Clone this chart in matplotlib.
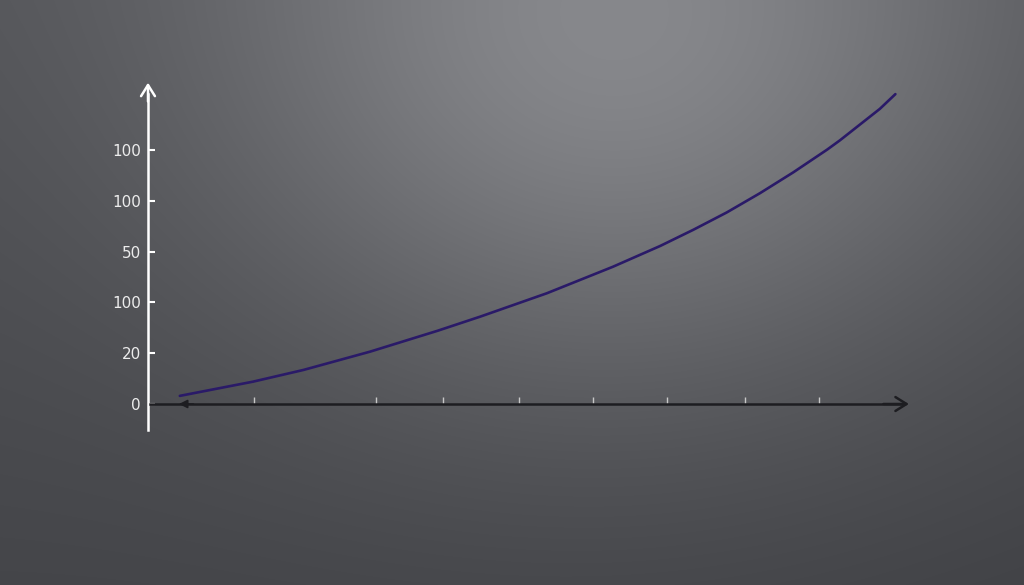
import numpy as np
import matplotlib.pyplot as plt

# data (x in axis units, y in tick steps)
x_vals = [0.43, 1.42, 2.10, 3.00, 3.91, 4.49, 5.39, 6.28, 6.92, 7.37, 7.82,
          8.27, 8.72, 9.18, 9.35, 9.89, 10.10]
y_vals = [0.16, 0.44, 0.67, 1.03, 1.44, 1.72, 2.18, 2.70, 3.11, 3.43, 3.77,
          4.15, 4.56, 5.01, 5.19, 5.81, 6.10]

y_ticks = [0, 1, 2, 3, 4, 5]
y_labels = ['0', '20', '100', '50', '100', '100']
x_ticks = [1.43, 3.08, 3.99, 5.01, 6.01, 7.02, 8.07, 9.07]

W, H = 1024, 585
fig = plt.figure(figsize=(W / 100, H / 100), dpi=100)

# background: grey with a soft light spot near the top
bg = fig.add_axes([0, 0, 1, 1])
yy, xx = np.mgrid[0:H, 0:W]
base = 82 - 14 * (yy / H) - 4 * (xx / W)
glow = 56 * np.exp(-(((xx - 620) / 410) ** 2 + ((yy - 40) / 360) ** 2))
v = base + glow
img = np.dstack([v, v + 1, v + 5]) / 255
bg.imshow(np.clip(img, 0, 1), aspect='auto', extent=[0, 1, 0, 1])
bg.axis('off')

# main axes mapped so the y axis sits at data x=0, x axis at data y=0
px_x, px_y = 74.0, 50.8
ax = fig.add_axes([0, 0, 1, 1])
ax.patch.set_alpha(0)
ax.set_xlim(-148 / px_x, (W - 148) / px_x)
ax.set_ylim(-(H - 404) / px_y, 404 / px_y)

ax.plot(x_vals, y_vals, color='#2a1a68', lw=1.9, solid_capstyle='round',
        solid_joinstyle='round', zorder=4)

for s in ['top', 'right']:
    ax.spines[s].set_visible(False)
ax.spines['left'].set_position(('data', 0))
ax.spines['left'].set_bounds(-0.51, 6.1)
ax.spines['left'].set_color('white')
ax.spines['left'].set_linewidth(1.8)
ax.spines['bottom'].set_position(('data', 0))
ax.spines['bottom'].set_bounds(0.03, 10.2)
ax.spines['bottom'].set_color('#1d1d21')
ax.spines['bottom'].set_linewidth(1.8)

ax.set_yticks(y_ticks)
ax.set_yticklabels(y_labels)
ax.tick_params(axis='y', direction='in', length=5, width=1.5, color='white',
               labelcolor='#ececec', labelsize=11, pad=5)
ax.set_xticks(x_ticks)
ax.set_xticklabels([])
ax.tick_params(axis='x', direction='in', length=5, width=1, color='#c8c8c8')

# arrow heads
ax.annotate('', xy=(0, 6.38), xytext=(0, 5.9),
            arrowprops=dict(arrowstyle='->, head_length=0.8, head_width=0.5',
                            color='white', lw=1.8))
ax.annotate('', xy=(10.32, 0), xytext=(9.9, 0),
            arrowprops=dict(arrowstyle='->, head_length=0.8, head_width=0.5',
                            color='#1d1d21', lw=1.8))
ax.annotate('', xy=(0.38, 0), xytext=(0.65, 0),
            arrowprops=dict(arrowstyle='-|>, head_length=0.5, head_width=0.25',
                            color='#1d1d21', lw=1.2))

fig.savefig('out.png', dpi=100)
